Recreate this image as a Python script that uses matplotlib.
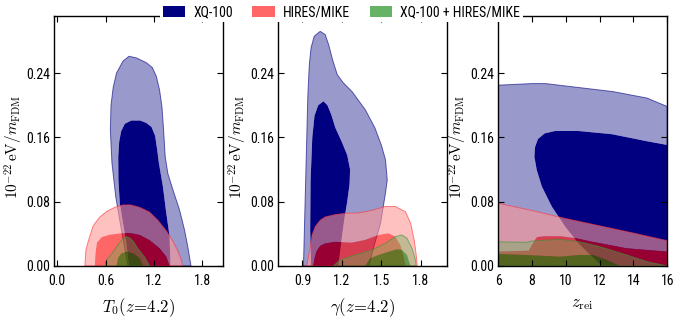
import numpy as np
import matplotlib
matplotlib.use('Agg')
import matplotlib.pyplot as plt
from matplotlib.path import Path
from matplotlib.patches import PathPatch, Patch
from matplotlib.colors import to_rgba
from matplotlib import font_manager

names = {f.name for f in font_manager.fontManager.ttflist}
tick_font = 'DejaVu Sans'
for cand in ['Liberation Sans Narrow', 'Arial Narrow', 'Nimbus Sans Narrow', 'Roboto Condensed',
             'PT Sans Narrow', 'Archivo Narrow']:
    if cand in names:
        tick_font = cand
        break
plt.rcParams['font.family'] = [tick_font, 'DejaVu Sans']
plt.rcParams['mathtext.fontset'] = 'cm'

# ---- data: 68% / 95% contours ----
# panel 1: T0(z=4.2) vs 1e-22 eV / m_FDM
t0_xq_outer = [(0.879, 0), (0.797, 0.045), (0.727, 0.086), (0.680, 0.128), (0.660, 0.169),
               (0.668, 0.200), (0.695, 0.222), (0.736, 0.240), (0.817, 0.255), (0.891, 0.261),
               (0.983, 0.259), (1.106, 0.253), (1.18, 0.247), (1.23, 0.236), (1.27, 0.219),
               (1.30, 0.198), (1.32, 0.169), (1.34, 0.136), (1.373, 0.115), (1.435, 0.095),
               (1.517, 0.070), (1.579, 0.045), (1.62, 0.024), (1.66, 0)]
t0_xq_inner = [(0.891, 0), (0.859, 0.028), (0.817, 0.053), (0.777, 0.078), (0.760, 0.107),
               (0.758, 0.136), (0.770, 0.155), (0.795, 0.168), (0.840, 0.177), (0.920, 0.181),
               (1.030, 0.181), (1.106, 0.178), (1.170, 0.173), (1.215, 0.162), (1.240, 0.145),
               (1.262, 0.128), (1.311, 0.099), (1.353, 0.066), (1.394, 0.037), (1.406, 0)]
t0_hr_outer = [(0.344, 0), (0.357, 0.020), (0.390, 0.032), (0.447, 0.050), (0.53, 0.061),
               (0.616, 0.068), (0.715, 0.073), (0.814, 0.076), (0.912, 0.076), (1.023, 0.073),
               (1.147, 0.067), (1.249, 0.057), (1.344, 0.045), (1.43, 0.032), (1.49, 0.020),
               (1.54, 0.0075), (1.554, 0)]
t0_hr_inner = [(0.468, 0), (0.474, 0.014), (0.493, 0.029), (0.554, 0.036), (0.653, 0.039),
               (0.777, 0.0405), (0.90, 0.041), (1.023, 0.0386), (1.147, 0.032), (1.27, 0.022),
               (1.353, 0.0116), (1.394, 0)]
t0_cb_outer = [(0.591, 0), (0.612, 0.0075), (0.678, 0.015), (0.752, 0.026), (0.814, 0.034),
               (0.859, 0.0365), (0.90, 0.035), (0.95, 0.030), (1.0, 0.022), (1.085, 0.011),
               (1.147, 0)]
t0_cb_inner = [(0.736, 0), (0.756, 0.010), (0.797, 0.0158), (0.859, 0.0178), (0.941, 0.0158),
               (1.023, 0.0096), (1.064, 0)]

# panel 2: gamma(z=4.2)
gm_xq_outer = [(0.908, 0), (0.915, 0.045), (0.928, 0.128), (0.941, 0.211), (0.952, 0.250),
               (0.966, 0.272), (0.990, 0.286), (1.035, 0.292), (1.073, 0.288), (1.100, 0.275),
               (1.130, 0.256), (1.165, 0.238), (1.210, 0.228), (1.277, 0.217), (1.379, 0.194),
               (1.45, 0.172), (1.50, 0.150), (1.531, 0.132), (1.544, 0.107), (1.530, 0.090),
               (1.512, 0.072), (1.493, 0.053), (1.442, 0.024), (1.404, 0)]
gm_xq_inner = [(0.966, 0), (0.959, 0.045), (0.962, 0.107), (0.975, 0.160), (0.992, 0.187),
               (1.02, 0.200), (1.06, 0.205), (1.090, 0.200), (1.120, 0.188), (1.15, 0.172),
               (1.200, 0.154), (1.240, 0.138), (1.262, 0.120), (1.258, 0.102), (1.240, 0.080),
               (1.220, 0.060), (1.203, 0.040), (1.173, 0)]
gm_hr_outer = [(0.931, 0), (0.956, 0.020), (0.974, 0.039), (0.997, 0.049), (1.035, 0.057),
               (1.073, 0.061), (1.15, 0.064), (1.226, 0.0656), (1.325, 0.066), (1.424, 0.069),
               (1.529, 0.074), (1.605, 0.074), (1.682, 0.0676), (1.722, 0.053), (1.749, 0.032),
               (1.764, 0.0137), (1.772, 0)]
gm_hr_inner = [(0.982, 0), (0.993, 0.010), (1.007, 0.018), (1.035, 0.025), (1.073, 0.028),
               (1.147, 0.030), (1.274, 0.029), (1.376, 0.0324), (1.478, 0.0386), (1.554, 0.0407),
               (1.605, 0.0365), (1.644, 0.026), (1.669, 0.0116), (1.683, 0)]
gm_cb_outer = [(1.134, 0), (1.185, 0.0075), (1.30, 0.0137), (1.427, 0.020), (1.529, 0.028),
               (1.605, 0.0365), (1.656, 0.0386), (1.694, 0.0345), (1.732, 0.022), (1.758, 0.0075),
               (1.763, 0)]
gm_cb_inner = [(1.376, 0), (1.415, 0.0096), (1.478, 0.0137), (1.554, 0.0178), (1.618, 0.0208),
               (1.656, 0.020), (1.694, 0.0137), (1.72, 0)]

# panel 3: z_rei
zr_xq_outer = [(6, 0), (6, 0.225), (8, 0.227), (8.8, 0.227), (10.8, 0.222), (12.8, 0.217),
               (14.8, 0.209), (16, 0.1985), (16, 0)]
zr_xq_inner = [(12.14, 0), (11.55, 0.0116), (10.75, 0.028), (9.96, 0.049), (9.17, 0.074),
               (8.58, 0.099), (8.28, 0.1195), (8.14, 0.136), (8.18, 0.148), (8.35, 0.158),
               (8.75, 0.165), (9.37, 0.168), (10.75, 0.168), (12.73, 0.164), (14.71, 0.1556),
               (16, 0.1506), (16, 0)]
zr_hr_outer = [(6, 0), (6, 0.078), (8, 0.069), (10, 0.059), (12, 0.050), (14, 0.041),
               (16, 0.0315), (16, 0)]
zr_hr_inner = [(6, 0), (6, 0.018), (7.8, 0.019), (8.1, 0.030), (8.3, 0.036), (8.7, 0.037),
               (9.7, 0.037), (10.6, 0.0345), (11.6, 0.030), (13.6, 0.022), (16, 0.0178), (16, 0)]
zr_cb_outer = [(6, 0), (6, 0.030), (7.66, 0.0295), (8.0, 0.031), (8.65, 0.032), (9.65, 0.033),
               (10.83, 0.030), (12.02, 0.024), (13.6, 0.0137), (14.8, 0.0054), (16, 0)]
zr_cb_inner = [(6, 0), (6, 0.015), (7.66, 0.0137), (9.65, 0.0116), (10.83, 0.0137),
               (11.62, 0.0137), (12.4, 0.0075), (13.2, 0)]

labels = ['XQ-100', 'HIRES/MIKE', 'XQ-100 + HIRES/MIKE']
xlabels = [r'$T_0(z\!=\!4.2)$', r'$\gamma(z\!=\!4.2)$', r'$z_{\rm rei}$']
ylabel = r'$10^{-22}\,\mathrm{eV}/m_{\rm FDM}$'
xticks = [[0.0, 0.6, 1.2, 1.8], [0.9, 1.2, 1.5, 1.8], [6, 8, 10, 12, 14, 16]]
xlims = [(-0.035, 2.06), (0.717, 2.0), (6, 16)]
yticks = [0.0, 0.08, 0.16, 0.24]

# colours: (outer colour, outer alpha, inner colour, inner alpha, edge)
styles = [('#000080', 0.4, '#000080', 1.0, '#000080'),
          ((1.0, 0.59, 0.59), 0.6, (1.0, 0.0, 0.0), 0.6, '#ff3333'),
          ((0.40, 0.70, 0.33), 0.4, (0.0, 0.5, 0.0), 0.6, '#339933')]
legend_colors = ['#000080', '#ff6666', '#66b366']


def ring(pts, ccw):
    pts = np.asarray(pts, dtype=float)
    x, y = pts[:, 0], pts[:, 1]
    area = 0.5 * np.sum(x * np.roll(y, -1) - np.roll(x, -1) * y)
    if (area > 0) != ccw:
        pts = pts[::-1]
    verts = np.vstack([pts, pts[:1]])
    codes = [Path.MOVETO] + [Path.LINETO] * (len(pts) - 1) + [Path.CLOSEPOLY]
    return verts, codes


def draw_pair(ax, outer, inner, style):
    c_out, a_out, c_in, a_in, ec = style
    vo, co = ring(outer, True)
    vi, ci = ring(inner, False)
    band = Path(np.vstack([vo, vi]), co + ci)
    ax.add_patch(PathPatch(band, facecolor=to_rgba(c_out, a_out), edgecolor='none', lw=0))
    vi2, ci2 = ring(inner, True)
    ax.add_patch(PathPatch(Path(vi2, ci2), facecolor=to_rgba(c_in, a_in), edgecolor='none', lw=0))
    ax.add_patch(PathPatch(Path(vo, co), facecolor='none', edgecolor=to_rgba(ec, 0.6), lw=0.7))


panels = [
    [(t0_xq_outer, t0_xq_inner), (t0_hr_outer, t0_hr_inner), (t0_cb_outer, t0_cb_inner)],
    [(gm_xq_outer, gm_xq_inner), (gm_hr_outer, gm_hr_inner), (gm_cb_outer, gm_cb_inner)],
    [(zr_xq_outer, zr_xq_inner), (zr_hr_outer, zr_hr_inner), (zr_cb_outer, zr_cb_inner)],
]

fig = plt.figure(figsize=(6.76, 3.22), dpi=100)
lefts = [0.0803, 0.4117, 0.737]
for i, contours in enumerate(panels):
    ax = fig.add_axes([lefts[i], 0.174, 0.250, 0.776])
    for (outer, inner), st in zip(contours, styles):
        draw_pair(ax, outer, inner, st)
    ax.set_xlim(*xlims[i])
    ax.set_ylim(0, 0.311)
    ax.set_xticks(xticks[i])
    ax.set_yticks(yticks)
    ax.set_yticklabels(['%.2f' % v for v in yticks])
    if i < 2:
        ax.set_xticklabels(['%.1f' % v for v in xticks[i]])
    ax.tick_params(direction='in', top=True, right=True, length=4.5, width=0.8,
                   labelsize=10)
    ax.tick_params(axis='x', pad=6)
    ax.tick_params(axis='y', pad=3)
    for s in ax.spines.values():
        s.set_linewidth(1.0)
    ax.set_xlabel(xlabels[i], fontsize=12, labelpad=6)
    ax.set_ylabel(ylabel, fontsize=11)
    ax.yaxis.set_label_coords(-0.175, 0.476)

handles = [Patch(facecolor=c, edgecolor='none') for c in legend_colors]
fig.legend(handles, labels, loc='center', bbox_to_anchor=(0.505, 0.962), ncol=3,
           fontsize=10, frameon=True, facecolor='white', edgecolor='none', framealpha=1,
           handlelength=1.6, handleheight=0.9, handletextpad=0.6, columnspacing=1.4,
           borderpad=0.2, fancybox=False)

fig.savefig('out.png', dpi=100)
